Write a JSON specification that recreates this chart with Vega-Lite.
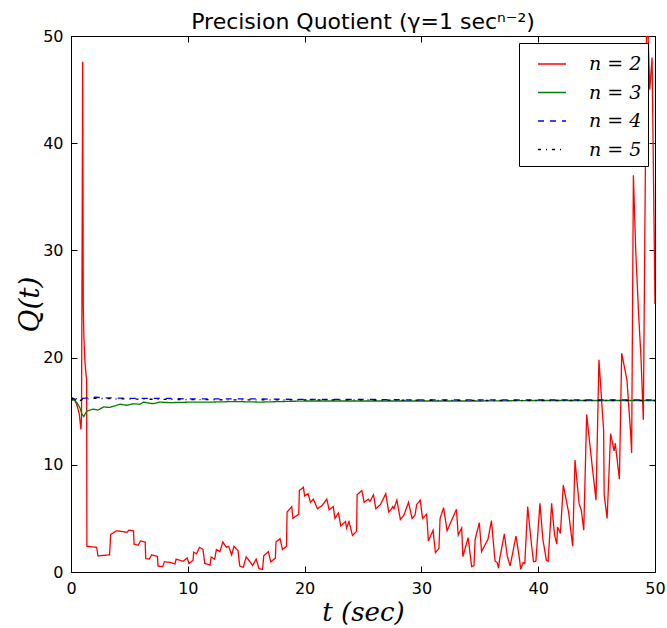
{
  "$schema": "https://vega.github.io/schema/vega-lite/v6.json",
  "width": 584,
  "height": 536,
  "autosize": "none",
  "padding": {"left": 71, "top": 36, "right": 12, "bottom": 56},
  "background": "white",
  "title": {"text": "Precision Quotient (γ=1 secⁿ⁻²)", "font": "DejaVu Sans", "fontSize": 22, "fontWeight": "normal", "anchor": "middle", "offset": 0, "dy": 6, "color": "black"},
  "config": {
    "view": {"stroke": "black", "strokeWidth": 1},
    "axis": {"grid": false, "domain": false, "labelFlush": false, "labelFont": "DejaVu Sans", "labelFontSize": 16, "labelColor": "black", "tickColor": "black", "tickSize": -6, "tickWidth": 1, "titleColor": "black", "titleFont": "DejaVu Serif", "titleFontStyle": "italic", "titleFontWeight": "normal"},
    "legend": {"orient": "top-right", "offset": 7, "padding": 6, "symbolOffset": 12, "fillColor": "white", "strokeColor": "black", "strokeWidth": 1, "symbolType": "stroke", "symbolSize": 784, "symbolStrokeWidth": 1.3, "labelFont": "DejaVu Serif", "labelFontStyle": "italic", "labelFontSize": 19, "labelColor": "black", "labelOffset": 22, "rowPadding": 3.5, "labelLimit": 200}
  },
  "data": {"values": [
    {"s":"n = 2","t":0,"q":16.0},{"s":"n = 2","t":0.3,"q":16.1},{"s":"n = 2","t":0.5,"q":15.6},{"s":"n = 2","t":0.7,"q":14.8},{"s":"n = 2","t":0.85,"q":13.3},{"s":"n = 2","t":0.9,"q":14.5},{"s":"n = 2","t":0.95,"q":30},{"s":"n = 2","t":1.0,"q":47.6},{"s":"n = 2","t":1.05,"q":25},{"s":"n = 2","t":1.1,"q":22},{"s":"n = 2","t":1.2,"q":19.5},{"s":"n = 2","t":1.3,"q":18.3},{"s":"n = 2","t":1.34,"q":18.0},{"s":"n = 2","t":1.36,"q":2.4},
    {"s":"n = 2","t":2.2,"q":2.3},{"s":"n = 2","t":2.3,"q":1.5},{"s":"n = 2","t":3.3,"q":1.6},{"s":"n = 2","t":3.4,"q":3.5},{"s":"n = 2","t":3.9,"q":3.85},{"s":"n = 2","t":4.8,"q":3.7},{"s":"n = 2","t":4.95,"q":3.9},{"s":"n = 2","t":5.35,"q":3.85},{"s":"n = 2","t":5.4,"q":2.6},{"s":"n = 2","t":5.75,"q":2.5},{"s":"n = 2","t":5.95,"q":2.9},{"s":"n = 2","t":6.35,"q":2.8},{"s":"n = 2","t":6.4,"q":1.25},{"s":"n = 2","t":6.7,"q":1.2},{"s":"n = 2","t":6.9,"q":1.6},{"s":"n = 2","t":7.4,"q":1.45},{"s":"n = 2","t":7.45,"q":0.55},{"s":"n = 2","t":7.85,"q":0.5},{"s":"n = 2","t":8.0,"q":0.95},{"s":"n = 2","t":8.5,"q":0.9},{"s":"n = 2","t":8.9,"q":0.75},{"s":"n = 2","t":9.0,"q":1.2},{"s":"n = 2","t":9.6,"q":1.0},{"s":"n = 2","t":9.95,"q":1.3},{"s":"n = 2","t":10.1,"q":0.8},{"s":"n = 2","t":10.45,"q":1.1},{"s":"n = 2","t":10.5,"q":1.85},{"s":"n = 2","t":10.75,"q":1.7},{"s":"n = 2","t":11.0,"q":2.3},{"s":"n = 2","t":11.3,"q":2.1},{"s":"n = 2","t":11.45,"q":0.8},{"s":"n = 2","t":11.9,"q":0.65},{"s":"n = 2","t":12.0,"q":1.4},{"s":"n = 2","t":12.3,"q":1.2},{"s":"n = 2","t":12.45,"q":2.1},{"s":"n = 2","t":12.75,"q":1.9},{"s":"n = 2","t":13.0,"q":2.8},{"s":"n = 2","t":13.3,"q":2.3},{"s":"n = 2","t":13.5,"q":2.4},{"s":"n = 2","t":13.75,"q":1.6},{"s":"n = 2","t":13.95,"q":2.4},{"s":"n = 2","t":14.3,"q":2.0},{"s":"n = 2","t":14.45,"q":0.55},{"s":"n = 2","t":14.75,"q":0.45},{"s":"n = 2","t":15.0,"q":1.4},{"s":"n = 2","t":15.3,"q":1.0},{"s":"n = 2","t":15.55,"q":0.6},{"s":"n = 2","t":15.85,"q":1.2},{"s":"n = 2","t":16.1,"q":0.3},{"s":"n = 2","t":16.4,"q":0.25},{"s":"n = 2","t":16.5,"q":1.5},{"s":"n = 2","t":16.9,"q":1.9},{"s":"n = 2","t":17.1,"q":0.95},{"s":"n = 2","t":17.5,"q":1.3},{"s":"n = 2","t":17.55,"q":2.8},{"s":"n = 2","t":17.9,"q":3.1},{"s":"n = 2","t":18.1,"q":2.1},{"s":"n = 2","t":18.45,"q":2.4},{"s":"n = 2","t":18.5,"q":5.6},{"s":"n = 2","t":18.9,"q":6.1},{"s":"n = 2","t":19.0,"q":5.0},{"s":"n = 2","t":19.5,"q":5.4},{"s":"n = 2","t":19.55,"q":7.6},{"s":"n = 2","t":19.9,"q":7.9},{"s":"n = 2","t":20.0,"q":7.1},{"s":"n = 2","t":20.3,"q":7.3},{"s":"n = 2","t":20.5,"q":6.5},{"s":"n = 2","t":20.75,"q":6.8},{"s":"n = 2","t":21.1,"q":5.9},{"s":"n = 2","t":21.5,"q":6.2},{"s":"n = 2","t":21.9,"q":6.8},{"s":"n = 2","t":22.1,"q":5.8},{"s":"n = 2","t":22.45,"q":6.1},{"s":"n = 2","t":22.6,"q":5.0},{"s":"n = 2","t":22.9,"q":5.5},{"s":"n = 2","t":23.1,"q":4.3},{"s":"n = 2","t":23.5,"q":4.7},{"s":"n = 2","t":23.6,"q":4.1},{"s":"n = 2","t":23.8,"q":4.7},{"s":"n = 2","t":24.1,"q":3.4},{"s":"n = 2","t":24.45,"q":3.8},{"s":"n = 2","t":24.5,"q":7.2},{"s":"n = 2","t":24.9,"q":7.6},{"s":"n = 2","t":25.1,"q":6.5},{"s":"n = 2","t":25.45,"q":6.8},{"s":"n = 2","t":25.6,"q":6.6},{"s":"n = 2","t":25.9,"q":7.2},{"s":"n = 2","t":26.1,"q":5.9},{"s":"n = 2","t":26.5,"q":6.3},{"s":"n = 2","t":26.95,"q":7.3},{"s":"n = 2","t":27.2,"q":5.6},{"s":"n = 2","t":27.45,"q":5.9},{"s":"n = 2","t":27.55,"q":6.1},{"s":"n = 2","t":27.65,"q":5.9},{"s":"n = 2","t":27.9,"q":6.7},{"s":"n = 2","t":28.2,"q":4.9},{"s":"n = 2","t":28.5,"q":5.3},{"s":"n = 2","t":28.9,"q":6.5},{"s":"n = 2","t":29.2,"q":5.0},{"s":"n = 2","t":29.45,"q":5.3},{"s":"n = 2","t":29.6,"q":6.3},{"s":"n = 2","t":29.9,"q":6.7},{"s":"n = 2","t":30.1,"q":5.0},{"s":"n = 2","t":30.45,"q":5.4},{"s":"n = 2","t":30.6,"q":2.9},{"s":"n = 2","t":31.0,"q":3.9},{"s":"n = 2","t":31.2,"q":1.8},{"s":"n = 2","t":31.5,"q":2.2},{"s":"n = 2","t":31.6,"q":5.0},{"s":"n = 2","t":31.9,"q":6.0},{"s":"n = 2","t":32.2,"q":3.85},{"s":"n = 2","t":33.0,"q":5.85},{"s":"n = 2","t":33.15,"q":3.45},{"s":"n = 2","t":33.45,"q":4.1},{"s":"n = 2","t":33.55,"q":1.43},{"s":"n = 2","t":34.0,"q":3.2},{"s":"n = 2","t":34.2,"q":1.43},{"s":"n = 2","t":34.3,"q":0.5},{"s":"n = 2","t":34.5,"q":0.6},{"s":"n = 2","t":34.6,"q":3.05},{"s":"n = 2","t":34.96,"q":4.6},{"s":"n = 2","t":35.15,"q":1.9},{"s":"n = 2","t":35.7,"q":3.05},{"s":"n = 2","t":36.0,"q":4.8},{"s":"n = 2","t":36.3,"q":1.05},{"s":"n = 2","t":36.5,"q":0.85},{"s":"n = 2","t":36.6,"q":0.35},{"s":"n = 2","t":36.7,"q":1.2},{"s":"n = 2","t":37.1,"q":3.55},{"s":"n = 2","t":37.35,"q":1.5},{"s":"n = 2","t":37.6,"q":0.56},{"s":"n = 2","t":38.1,"q":3.36},{"s":"n = 2","t":38.4,"q":1.2},{"s":"n = 2","t":38.5,"q":0.25},{"s":"n = 2","t":38.7,"q":0.87},{"s":"n = 2","t":38.85,"q":0.8},{"s":"n = 2","t":39.1,"q":6.1},{"s":"n = 2","t":39.4,"q":2.8},{"s":"n = 2","t":39.6,"q":0.96},{"s":"n = 2","t":39.8,"q":1.0},{"s":"n = 2","t":40.15,"q":6.4},{"s":"n = 2","t":40.4,"q":3.05},{"s":"n = 2","t":40.7,"q":1.1},{"s":"n = 2","t":40.85,"q":1.0},{"s":"n = 2","t":41.15,"q":6.4},{"s":"n = 2","t":41.4,"q":3.45},{"s":"n = 2","t":41.6,"q":2.6},{"s":"n = 2","t":41.65,"q":4.2},{"s":"n = 2","t":41.9,"q":3.6},{"s":"n = 2","t":42.15,"q":8.1},{"s":"n = 2","t":42.6,"q":5.6},{"s":"n = 2","t":42.95,"q":2.4},{"s":"n = 2","t":43.15,"q":10.45},{"s":"n = 2","t":43.5,"q":6.4},{"s":"n = 2","t":43.7,"q":5.7},{"s":"n = 2","t":43.9,"q":3.9},{"s":"n = 2","t":44.15,"q":14.7},{"s":"n = 2","t":44.6,"q":10.1},{"s":"n = 2","t":44.95,"q":6.7},{"s":"n = 2","t":45.2,"q":19.8},{"s":"n = 2","t":45.6,"q":13.2},{"s":"n = 2","t":45.65,"q":7.2},{"s":"n = 2","t":45.9,"q":5.0},{"s":"n = 2","t":46.2,"q":12.9},{"s":"n = 2","t":46.5,"q":11.3},{"s":"n = 2","t":46.6,"q":12.0},{"s":"n = 2","t":46.95,"q":8.65},{"s":"n = 2","t":47.15,"q":20.4},{"s":"n = 2","t":47.6,"q":17.9},{"s":"n = 2","t":47.9,"q":13.2},{"s":"n = 2","t":48.0,"q":11.1},{"s":"n = 2","t":48.15,"q":37.0},{"s":"n = 2","t":48.35,"q":30.0},{"s":"n = 2","t":48.6,"q":24.0},{"s":"n = 2","t":48.8,"q":20.0},{"s":"n = 2","t":49.0,"q":14.2},{"s":"n = 2","t":49.3,"q":54},{"s":"n = 2","t":49.55,"q":45},{"s":"n = 2","t":49.75,"q":48},{"s":"n = 2","t":50.0,"q":25},
    {"s":"n = 3","t":0,"q":16.0},{"s":"n = 3","t":0.2,"q":16.1},{"s":"n = 3","t":0.5,"q":15.8},{"s":"n = 3","t":0.77,"q":15.3},{"s":"n = 3","t":0.95,"q":14.7},{"s":"n = 3","t":1.1,"q":14.5},{"s":"n = 3","t":1.34,"q":15.0},{"s":"n = 3","t":1.9,"q":15.2},{"s":"n = 3","t":2.3,"q":15.1},{"s":"n = 3","t":2.8,"q":15.4},{"s":"n = 3","t":3.3,"q":15.35},{"s":"n = 3","t":3.6,"q":15.45},{"s":"n = 3","t":4.2,"q":15.65},{"s":"n = 3","t":4.8,"q":15.55},{"s":"n = 3","t":5.3,"q":15.7},{"s":"n = 3","t":5.9,"q":15.65},{"s":"n = 3","t":6.2,"q":15.85},{"s":"n = 3","t":7.0,"q":15.7},{"s":"n = 3","t":7.6,"q":15.85},{"s":"n = 3","t":8.5,"q":15.8},{"s":"n = 3","t":10.4,"q":15.85},{"s":"n = 3","t":12,"q":15.85},{"s":"n = 3","t":14,"q":15.9},{"s":"n = 3","t":16.2,"q":15.85},{"s":"n = 3","t":18,"q":15.9},{"s":"n = 3","t":20,"q":15.95},{"s":"n = 3","t":25,"q":15.95},{"s":"n = 3","t":30,"q":15.95},{"s":"n = 3","t":35,"q":15.95},{"s":"n = 3","t":40,"q":16.0},{"s":"n = 3","t":45,"q":16.0},{"s":"n = 3","t":50,"q":16.0},
    {"s":"n = 4","t":0,"q":16.3},{"s":"n = 4","t":0.5,"q":16.0},{"s":"n = 4","t":1.0,"q":16.2},{"s":"n = 4","t":2,"q":16.3},{"s":"n = 4","t":3,"q":16.25},{"s":"n = 4","t":5,"q":16.2},{"s":"n = 4","t":8,"q":16.2},{"s":"n = 4","t":10,"q":16.15},{"s":"n = 4","t":15,"q":16.15},{"s":"n = 4","t":20,"q":16.1},{"s":"n = 4","t":25,"q":16.1},{"s":"n = 4","t":30,"q":16.05},{"s":"n = 4","t":40,"q":16.05},{"s":"n = 4","t":50,"q":16.05},
    {"s":"n = 5","t":0,"q":16.0},{"s":"n = 5","t":0.3,"q":16.4},{"s":"n = 5","t":0.6,"q":15.9},{"s":"n = 5","t":1.0,"q":16.1},{"s":"n = 5","t":2,"q":16.2},{"s":"n = 5","t":4,"q":16.15},{"s":"n = 5","t":8,"q":16.1},{"s":"n = 5","t":15,"q":16.05},{"s":"n = 5","t":25,"q":16.05},{"s":"n = 5","t":35,"q":16.0},{"s":"n = 5","t":50,"q":16.0}
  ]},
  "layer": [
    {
      "mark": {"type": "line", "clip": true, "strokeWidth": 1.3},
      "encoding": {
        "x": {"field": "t", "type": "quantitative", "scale": {"domain": [0, 50], "nice": false, "zero": false}, "axis": {"values": [0, 10, 20, 30, 40, 50], "title": "t (sec)", "titleFontSize": 26, "titleY": 40, "titleBaseline": "middle", "labelPadding": 14}},
        "y": {"field": "q", "type": "quantitative", "scale": {"domain": [0, 50], "nice": false}, "axis": {"values": [0, 10, 20, 30, 40, 50], "title": "Q(t)", "titleFontSize": 28, "titleX": -41, "titleY": 268, "titleBaseline": "middle", "labelPadding": 14}},
        "color": {"field": "s", "type": "nominal", "scale": {"domain": ["n = 2", "n = 3", "n = 4", "n = 5"], "range": ["#ff0000", "#008000", "#0000ff", "#000000"]}, "legend": {"title": null, "orient": "top-right", "offset": 7}},
        "strokeDash": {"field": "s", "type": "nominal", "scale": {"domain": ["n = 2", "n = 3", "n = 4", "n = 5"], "range": [[1, 0], [1, 0], [6, 6], [3, 5, 1, 5]]}, "legend": {"title": null, "orient": "top-right", "offset": 7}}
      }
    },
    {
      "data": {"values": [{"t": 0, "q": 0}]},
      "mark": {"type": "point", "opacity": 0},
      "encoding": {
        "x": {"field": "t", "type": "quantitative", "axis": {"orient": "top", "values": [0, 10, 20, 30, 40, 50], "labels": false, "title": null}},
        "y": {"field": "q", "type": "quantitative", "axis": {"orient": "right", "values": [0, 10, 20, 30, 40, 50], "labels": false, "title": null}}
      }
    }
  ],
  "resolve": {"axis": {"x": "independent", "y": "independent"}}
}
